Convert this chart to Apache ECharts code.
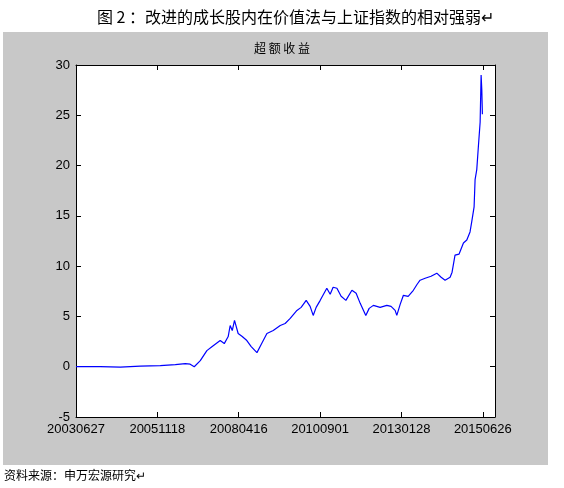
<!DOCTYPE html>
<html><head><meta charset="utf-8">
<script src="https://cdn.jsdelivr.net/npm/echarts@6/dist/echarts.min.js"></script>
<style>html,body{margin:0;padding:0;background:#fff}#c{width:564px;height:488px}</style>
</head><body><div id="c"></div>
<script>
const tickLabels = ['20030627','20051118','20080416','20100901','20130128','20150626'];
const dayIndex = [0,173,316,458,601,708,779,814,843,886,933,971,1028,1057,1085,1099,1114,1130,1156,1185,1218,1249,1290,1320,1361,1406,1456,1491,1527,1575,1605,1641,1669,1691,1712,1741,1788,1812,1833,1860,1890,1924,1967,1997,2026,2066,2090,2120,2168,2216,2246,2275,2287,2311,2334,2368,2405,2432,2453,2489,2531,2572,2603,2631,2667,2681,2702,2731,2762,2786,2809,2821,2838,2845,2857,2868,2881,2888,2893,2897];
const excess = [0,0,-0.05,0.05,0.1,0.2,0.3,0.25,0,0.6,1.6,2.0,2.6,2.3,3.0,4.1,3.6,4.6,3.3,3.0,2.6,2.0,1.4,2.2,3.3,3.6,4.1,4.3,4.8,5.6,5.9,6.6,6.0,5.1,5.9,6.6,7.8,7.2,7.9,7.8,7.0,6.6,7.6,7.3,6.3,5.1,5.8,6.1,5.9,6.1,6.0,5.6,5.1,6.2,7.1,7.0,7.6,8.2,8.6,8.8,9.0,9.3,8.9,8.6,8.9,9.4,11.1,11.2,12.3,12.6,13.4,14.4,15.9,18.6,19.6,21.8,24.3,29.0,27.5,25.1];
const step = 580;
const chart = echarts.init(document.getElementById('c'));
const lab = {color:'#000', fontFamily:'Arial', fontSize:13};
chart.setOption({
  animation:false,
  graphic:[{type:'rect',shape:{x:3,y:32,width:545,height:433},style:{fill:'#c8c8c8'},z:-10}],
  title:[
    {text:'图 2 ：改进的成长股内在价值法与上证指数的相对强弱↵',left:92,top:4,textStyle:{fontSize:16,fontWeight:'normal',color:'#000',fontFamily:'Noto Sans CJK SC'}},
    {text:'超 额 收 益',left:'center',top:42,textStyle:{fontSize:12,fontWeight:'normal',color:'#000',fontFamily:'Noto Sans CJK SC'},padding:0},
    {text:'资料来源：申万宏源研究↵',left:4,top:469,textStyle:{fontSize:12,fontWeight:'normal',color:'#000',fontFamily:'Noto Sans CJK SC'},padding:0}
  ],
  grid:{left:76,right:69,top:65,bottom:71,backgroundColor:'#fff',show:true,borderWidth:0},
  xAxis:[{type:'value',min:0,max:2987,interval:step,
    axisLine:{onZero:false,lineStyle:{color:'#000'}},axisTick:{inside:true,length:5,lineStyle:{color:'#000'}},
    splitLine:{show:false},
    axisLabel:Object.assign({showMaxLabel:false,margin:6,formatter:v=>tickLabels[Math.round(v/step)]||''},lab)},
   {type:'value',position:'top',min:0,max:2987,interval:step,axisLine:{onZero:false,lineStyle:{color:'#000'}},
    axisTick:{inside:true,length:5,lineStyle:{color:'#000'}},axisLabel:{show:false},splitLine:{show:false}}],
  yAxis:[{type:'value',min:-5,max:30,interval:5,
    axisLine:{show:true,onZero:false,lineStyle:{color:'#000'}},axisTick:{show:true,inside:true,length:5,lineStyle:{color:'#000'}},
    splitLine:{show:false},axisLabel:Object.assign({margin:6},lab)},
   {type:'value',position:'right',min:-5,max:30,interval:5,axisLine:{show:true,onZero:false,lineStyle:{color:'#000'}},
    axisTick:{show:true,inside:true,length:5,lineStyle:{color:'#000'}},axisLabel:{show:false},splitLine:{show:false}}],
  series:[{type:'line',data:dayIndex.map((d,i)=>[d,excess[i]]),showSymbol:false,
    lineStyle:{color:'#0000ff',width:1.2}}]
});
</script></body></html>
